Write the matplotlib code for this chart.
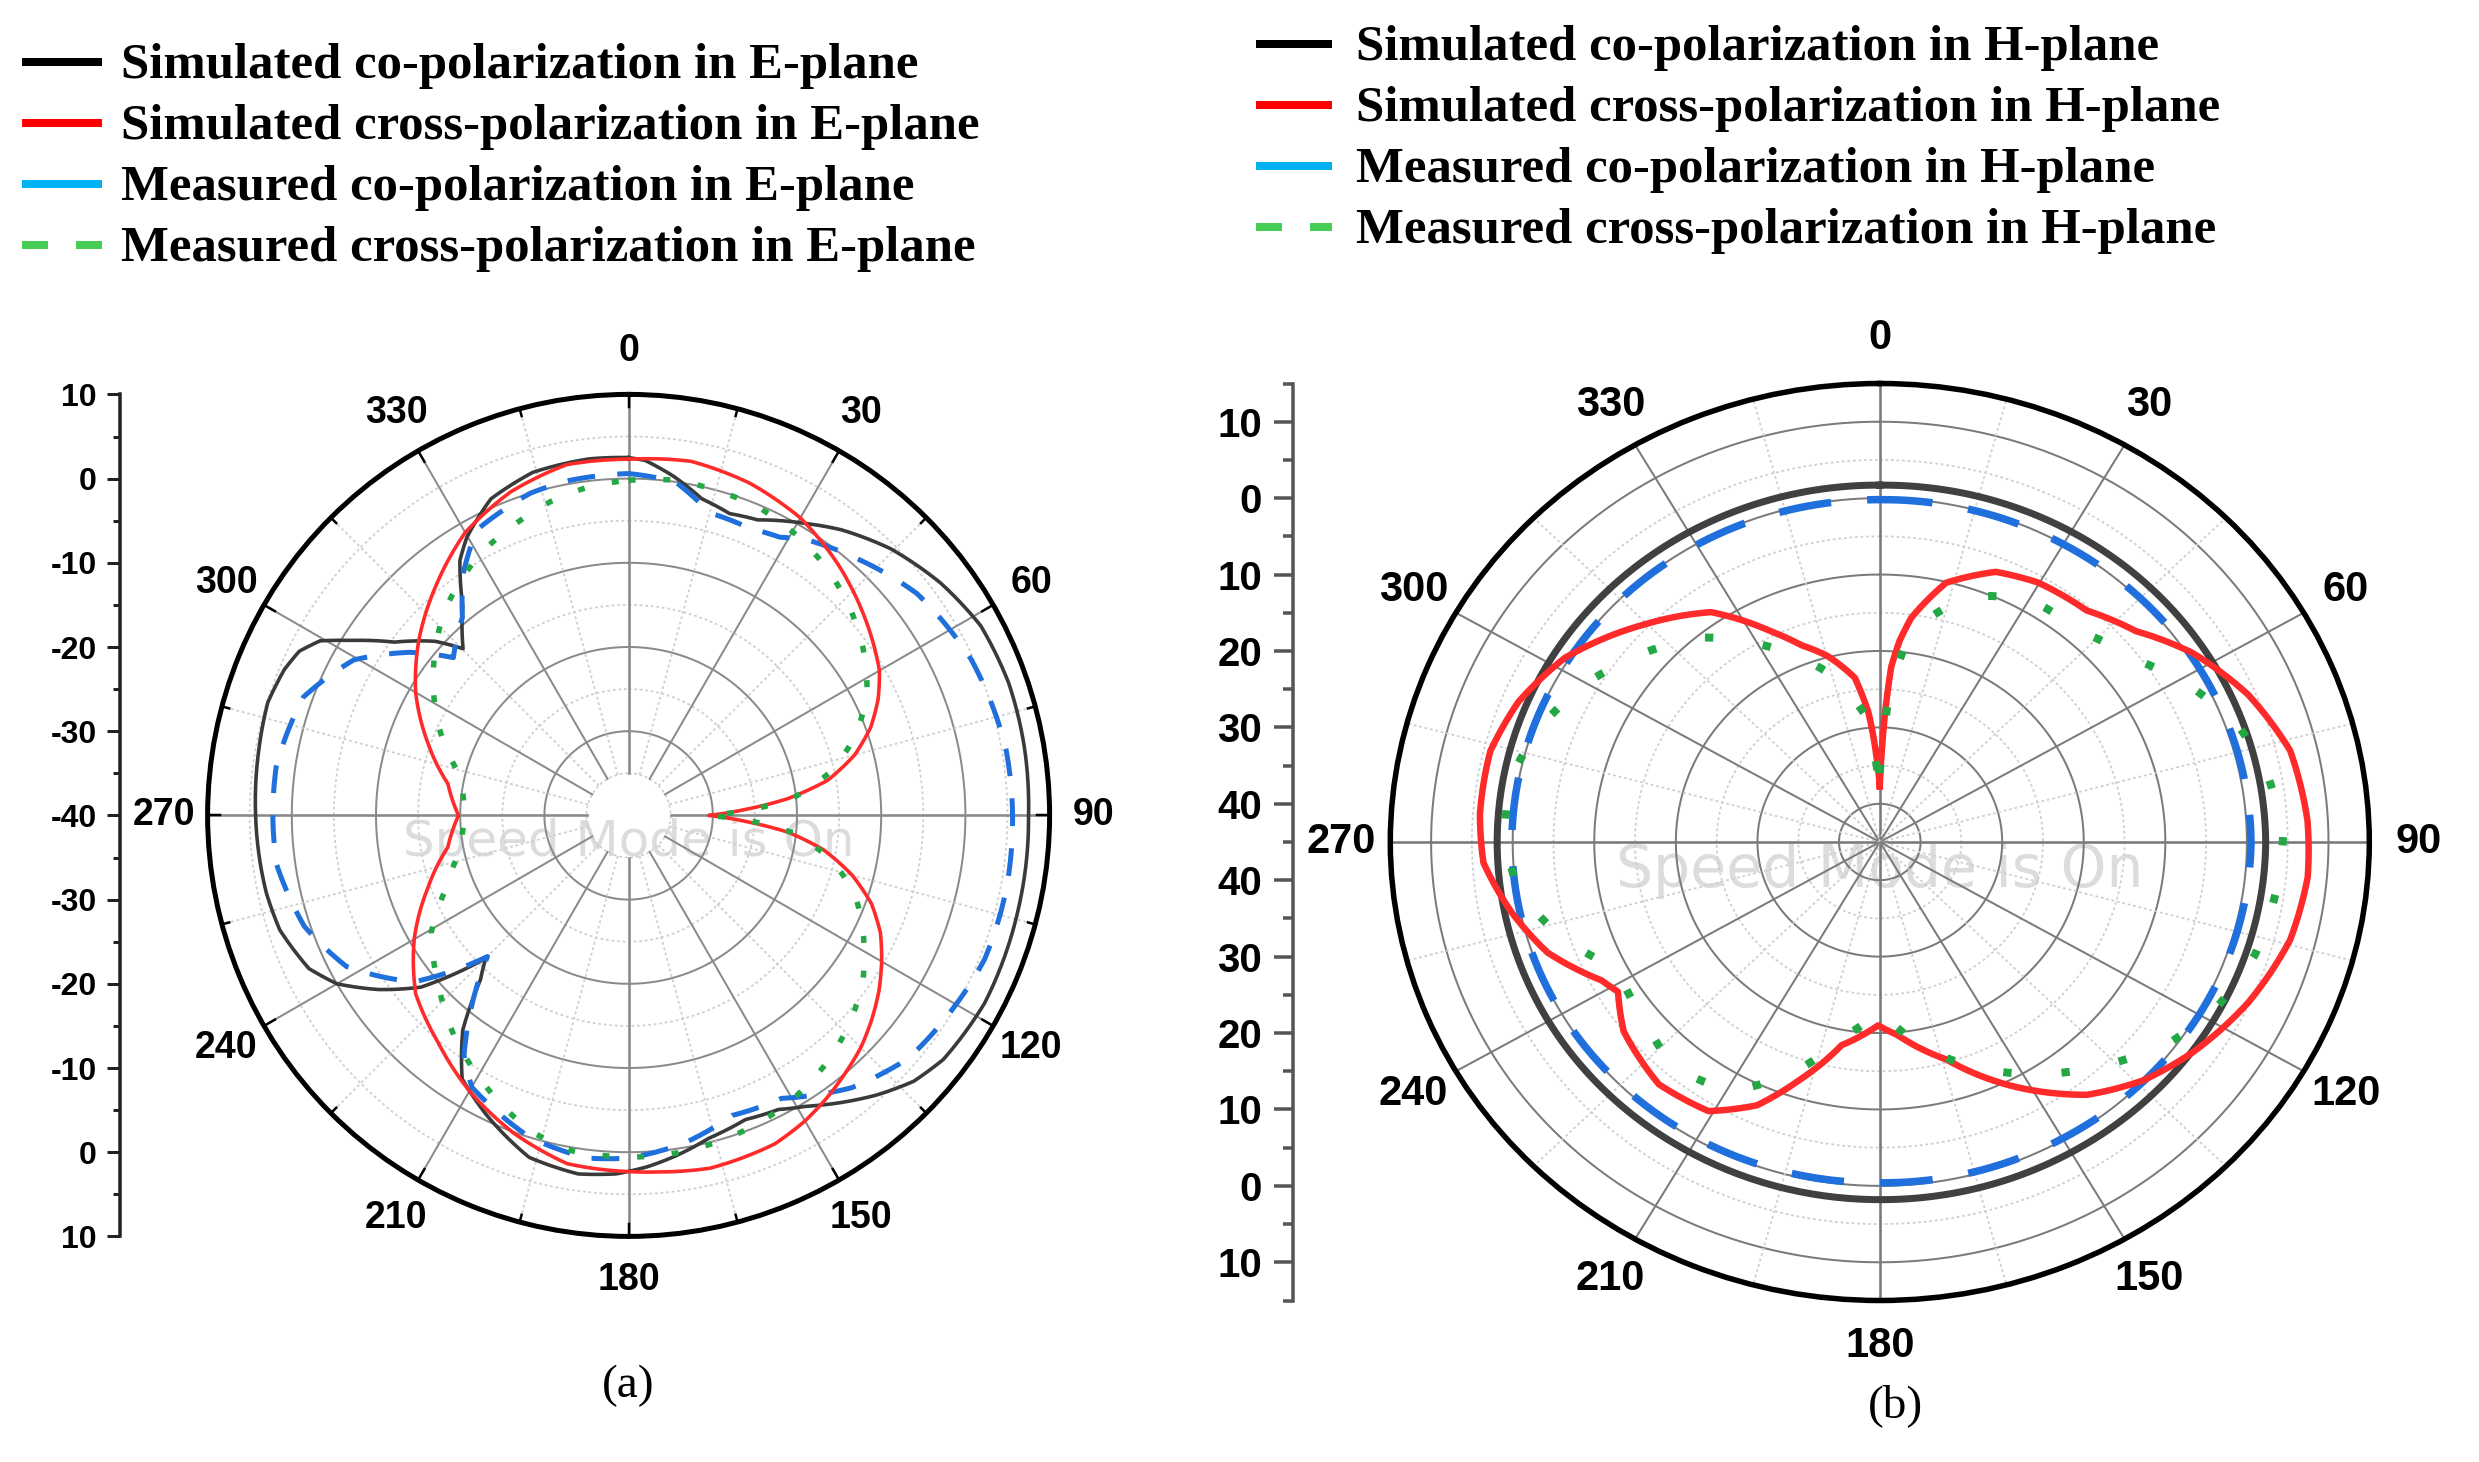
import numpy as np
import matplotlib
matplotlib.use("Agg")
import matplotlib.pyplot as plt
from matplotlib.lines import Line2D

plt.rcParams['font.family'] = ['Liberation Sans', 'DejaVu Sans']
plt.rcParams['lines.scale_dashes'] = False

W, H = 2479, 1462

# ---------------- data (angle in degrees, clockwise from top; value in dB) -------------
# (a) E-plane
e_sim_co_theta = [0, 2.7, 7.5, 13, 18.5, 23.6, 31.4, 36.7, 44.5, 53.3, 61.7, 70.8, 80, 90, 103, 117.8,
                  127.8, 133, 138.4, 142, 148.5, 153, 159, 166, 172, 177, 182, 188, 196.2, 205.3,
                  212.3, 217.7, 222, 225, 230.4, 235.1, 240, 244.4, 251.8, 258, 270, 280, 287.4,
                  293, 296.5, 299.5, 302.2, 306.5, 312, 315.2, 321.6, 326.5, 329.8, 336.5, 344.4,
                  353.7, 360]
e_sim_co_db = [2.5, 2.2, 0.65, -1.4, -2.2, -1.7, 0.6, 2.3, 4.4, 6.2, 7.5, 7.8, 7.7, 7.5, 7.6, 7.8,
               7.3, 6.3, 4.4, 3.0, 0.5, -0.8, -1.3, -0.5, 0.8, 1.8, 2.6, 3.0, 2.3, -0.6,
               -3.0, -7.8, -13.7, -16.0, -8.0, -3.85, 0.0, 2.1, 3.6, 4.0, 4.3, 4.6, 4.9,
               4.4, 3.7, 2.1, -1.0, -5.4, -9.1, -12.1, -8.3, -3.7, -1.8, 1.0, 2.3,
               2.6, 2.5]

e_sim_cross_theta = [0, 10, 20, 30, 40, 45, 50, 55, 60, 65, 70, 75, 80, 84, 87, 90, 93, 96, 100,
                     105, 110, 115, 120, 125, 130, 135, 140, 145, 150, 156, 167, 175, 180, 190,
                     200, 210, 220, 230, 240, 250, 260, 270, 280, 290, 300, 310, 320, 330, 340,
                     350, 360]
e_sim_cross_db = [2.3, 2.7, 2.0, 0.8, -1.2, -2.3, -3.4, -4.5, -5.6, -7.3, -9.4, -12.2, -16.0,
                  -21.0, -26.0, -30.5, -26.0, -21.0, -16.5, -12.5, -9.3, -7.0, -5.3, -3.7, -2.3,
                  -1.0, 0.0, 1.0, 1.9, 2.7, 3.0, 2.5, 2.3, 2.0, 0.1, -2.2, -4.8, -7.0, -10.6,
                  -14.6, -18.2, -19.8, -18.2, -14.6, -10.8, -7.5, -4.4, -1.2, 0.9, 2.3, 2.3]

e_meas_co_theta = [0, 8, 15, 23, 28.5, 33, 41.6, 52.4, 65.5, 80, 90, 101, 112, 120, 131, 140.7,
                   146, 151.6, 160.9, 170.5, 180, 187, 197, 204, 210, 214.5, 218.6, 225, 232.2,
                   241.8, 251.1, 262, 270, 278, 290, 299.5, 306.7, 312, 320, 326, 332, 337, 343,
                   350, 356, 360]
e_meas_co_db = [0.6, 0.0, -2.8, -3.0, -2.4, -1.0, 0.8, 3.2, 4.7, 5.5, 5.6, 5.7, 5.6, 4.9, 4.0,
                1.8, 0.0, -1.8, -2.3, -0.5, 0.7, 1.0, 0.0, -1.5, -2.75, -5.5, -9.8, -16.3,
                -7.75, -2.0, 0.7, 2.2, 2.25, 2.25, 1.1, -2.5, -7.6, -12.0, -9.3, -5.0, -1.6,
                -0.9, 0.0, 0.4, 0.5, 0.6]

e_meas_cross_theta = [0, 8, 15, 23, 31, 39, 47, 54.5, 63, 71, 78, 84, 87.5, 90, 92.5, 96, 102,
                      109, 117, 125, 133, 141, 149, 157, 165, 172, 180, 189.7, 197.6, 207.5, 218,
                      228.8, 239.2, 247.6, 258, 270, 282.4, 295.9, 308.7, 318, 330.3, 338, 346,
                      353, 360]
e_meas_cross_db = [-0.2, 0.2, 0.0, -0.3, -1.2, -2.4, -4.0, -5.8, -8.2, -11.6, -15.6, -20.4,
                   -25.6, -30.5, -25.6, -20.4, -15.6, -11.6, -8.7, -6.0, -4.0, -2.4, -1.2, -0.3,
                   0.2, 0.5, 0.6, 0.4, -0.8, -3.55, -6.5, -9.9, -12.7, -16.4, -19.6, -20.7,
                   -19.8, -14.8, -10.4, -7.3, -4.3, -3.0, -1.6, -0.7, -0.2]

# (b) H-plane
h_sim_co_theta = [0, 30, 60, 90, 120, 150, 180, 210, 240, 270, 300, 330, 360]
h_sim_co_db = [1.7, 1.9, 2.1, 2.3, 2.1, 1.9, 1.8, 1.8, 1.9, 1.9, 1.9, 1.8, 1.7]

h_meas_co_theta = [0, 30, 60, 90, 120, 150, 180, 210, 240, 270, 300, 330, 360]
h_meas_co_db = [-0.2, 0.0, 0.3, 0.5, 0.2, -0.2, -0.4, -0.2, 0.0, 0.1, 0.0, -0.1, -0.2]

h_sim_cross_theta = [0, 1.2, 2.2, 3.5, 5.3, 7.5, 13.5, 21.9, 29.7, 39.9, 48.7, 57.1, 66.9, 76.6,
                     87, 95, 104.3, 115, 125.7, 134, 142.5, 152.4, 164, 175.1, 180.5, 190, 197.6,
                     203.6, 210.8, 220.5, 231.7, 238.6, 242, 250.4, 258.5, 266.8, 274.3, 284,
                     292.5, 302, 314.7, 325.5, 334.2, 339.5, 345.2, 351.9, 355.3, 358, 360]
h_sim_cross_db = [-37.7, -33.0, -28.0, -22.0, -18.5, -15.4, -10.1, -6.9, -5.9, -5.5, -3.2, 0.6,
                  4.1, 6.7, 7.5, 7.65, 6.9, 4.8, 2.2, -0.1, -3.3, -8.8, -15.4, -19.65, -21.0,
                  -18.0, -12.3, -7.4, -4.0, -3.3, -5.0, -7.4, -6.4, -1.8, 1.07, 3.66, 4.15, 4.2,
                  2.94, 0.5, -4.5, -8.5, -14.4, -17.5, -19.8, -23.3, -28.0, -34.0, -37.7]

h_meas_cross_theta = [0, 2, 3.5, 8, 18.5, 30.3, 41.7, 52.7, 62.2, 71.6, 80.2, 89, 97.5, 107.7,
                      116.9, 126.2, 135, 145.2, 155.9, 168.3, 180, 190.4, 199.5, 209.6, 220.8,
                      230.9, 242.9, 252.4, 261.7, 271, 281, 290.7, 300.4, 310.2, 321.3, 331.7,
                      343.3, 353.7, 358, 360]
h_meas_cross_db = [-36.0, -31.0, -25.0, -17.2, -11.1, -8.3, -8.1, -5.6, -1.7, 1.66, 3.4, 4.44,
                   4.0, 3.3, 1.74, -0.74, -4.2, -8.1, -12.3, -17.4, -23.0, -18.9, -12.9, -7.5,
                   -6.2, -7.9, -8.8, -4.0, -0.26, 1.0, 0.9, -0.96, -3.6, -6.8, -10.7, -15.9,
                   -21.6, -28.2, -35.4, -36.0]

angle_labels = ['0', '30', '60', '90', '120', '150', '180', '210', '240', '270', '300', '330']
left_r_labels = ['10', '0', '-10', '-20', '-30', '-40', '-30', '-20', '-10', '0', '10']
right_r_labels = ['10', '0', '10', '20', '30', '40', '40', '30', '20', '10', '0', '10']

legend_a = ['Simulated co-polarization in E-plane', 'Simulated cross-polarization in E-plane',
            'Measured co-polarization in E-plane', 'Measured cross-polarization in E-plane']
legend_b = ['Simulated co-polarization in H-plane', 'Simulated cross-polarization in H-plane',
            'Measured co-polarization in H-plane', 'Measured cross-polarization in H-plane']

# ---------------- figure ----------------
fig = plt.figure(figsize=(W / 100, H / 100), dpi=100)
fig.patch.set_facecolor('white')


def fx(x):
    return x / W


def fy(y):
    return 1 - y / H


def px(p):
    return p * 0.72


def polar_line(ax, theta_deg, vals, **kw):
    ln, = ax.plot(np.deg2rad(theta_deg), vals, **kw)
    # let the polar transform draw each segment as an arc in (theta, r)
    ln.get_path()._interpolation_steps = 40
    return ln


def setup_polar(ax, rmin, rmax, spine_lw):
    ax.set_theta_zero_location('N')
    ax.set_theta_direction(-1)
    ax.set_ylim(rmin, rmax)
    ax.grid(False)
    ax.set_xticks([])
    ax.set_yticks([])
    ax.spines['polar'].set_linewidth(spine_lw)
    ax.spines['polar'].set_color('black')
    ax.set_facecolor('none')


def draw_grid(ax, rin, rmax, solid_r, light_r, solid_c='#8a8a8a', light_c='#cfcfcf'):
    t = np.linspace(0, 2 * np.pi, 721)
    for r in solid_r:
        ax.plot(t, np.full_like(t, r), color=solid_c, lw=px(2.0), zorder=1)
    for r in light_r:
        ax.plot(t, np.full_like(t, r), color=light_c, lw=px(1.8), ls=(0, (2, 2)), zorder=1)
    for a in range(0, 360, 15):
        th = np.deg2rad(a)
        if a % 30 == 0:
            lw = px(2.6) if a % 90 == 0 else px(2.0)
            ax.plot([th, th], [rin, rmax], color=solid_c, lw=lw, zorder=1)
        else:
            ax.plot([th, th], [rin, rmax], color=light_c, lw=px(1.8), ls=(0, (2, 2)), zorder=1)


# ---- (a) left polar ----
axL = fig.add_axes([fx(207.6), fy(1236.4), 842 / W, 842 / H], projection='polar')
setup_polar(axL, -40, 10, px(5))
draw_grid(axL, -35, 10, [-30, -20, -10, 0], [-35, -25, -15, -5, 5])
for a in range(0, 360, 15):
    th = np.deg2rad(a)
    d = 1.5 if a % 30 == 0 else 0.9
    axL.plot([th, th], [10 - d, 10], color='black', lw=px(2.5), zorder=4, clip_on=False)
axL.text(np.pi, -36.8, 'Speed Mode is On', ha='center', va='center',
         fontsize=36, color='#dcdcdc', zorder=0.5, family=['DejaVu Sans'])

polar_line(axL, e_sim_co_theta, e_sim_co_db, color='#3a3a3a', lw=px(3.6), zorder=3)
polar_line(axL, e_meas_co_theta, e_meas_co_db, color='#1f6fdc', lw=px(5), zorder=3.2,
           ls=(0, (20, 16)))
polar_line(axL, e_sim_cross_theta, e_sim_cross_db, color='#ff2a2a', lw=px(3.6), zorder=3.4)
polar_line(axL, e_meas_cross_theta, e_meas_cross_db, color='#23a845', lw=px(5.5),
           zorder=3.6, ls=(0, (5, 20)))

for i, lab in enumerate(angle_labels):
    axL.text(np.deg2rad(30 * i), 15.2, lab, ha='center', va='center', fontsize=27,
             fontweight='bold', clip_on=False)

# left radial axis
axLa = fig.add_axes([fx(120), fy(1236.4), 0.0004, 842 / H])
axLa.set_ylim(-50, 50)
axLa.set_xlim(0, 1)
for s in ['top', 'right', 'bottom']:
    axLa.spines[s].set_visible(False)
axLa.spines['left'].set_linewidth(px(3.5))
axLa.spines['left'].set_color('#222222')
axLa.set_xticks([])
axLa.set_yticks(np.arange(-50, 51, 10))
axLa.set_yticklabels(left_r_labels[::-1])
axLa.set_yticks(np.arange(-45, 50, 10), minor=True)
axLa.tick_params(axis='y', which='major', length=px(13), width=px(3), pad=px(10),
                 labelsize=23, color='#222222')
axLa.tick_params(axis='y', which='minor', length=px(7), width=px(3), color='#222222')
for t in axLa.get_yticklabels():
    t.set_fontweight('bold')
axLa.patch.set_visible(False)

# ---- (b) right polar (elliptical) ----
axR = fig.add_axes([fx(1390.3), fy(1300.5), 979 / W, 917 / H], projection='polar')
setup_polar(axR, -45, 15, px(5.5))
axR.set_aspect('auto')
draw_grid(axR, -45, 15, [-40, -30, -20, -10, 0, 10], [-35, -25, -15, -5, 5], solid_c='#7a7a7a')
axR.text(np.pi, -41.3, 'Speed Mode is On', ha='center', va='center', fontsize=42,
         color='#dcdcdc', zorder=0.5, family=['DejaVu Sans'])

polar_line(axR, h_sim_co_theta, h_sim_co_db, color='#404040', lw=px(7), zorder=3)
polar_line(axR, h_meas_co_theta, h_meas_co_db, color='#1f6fdc', lw=px(7.5), zorder=3.2,
           ls=(0, (38, 26)))
polar_line(axR, h_sim_cross_theta, h_sim_cross_db, color='#ff2a2a', lw=px(6.5), zorder=3.4)
polar_line(axR, h_meas_cross_theta, h_meas_cross_db, color='#23a845', lw=px(8),
           zorder=3.6, ls=(0, (6, 36)))

for i, lab in enumerate(angle_labels):
    axR.text(np.deg2rad(30 * i), 21.0, lab, ha='center', va='center', fontsize=30,
             fontweight='bold', clip_on=False)

# right radial axis
axRa = fig.add_axes([fx(1293), fy(1300.5), 0.0004, 917 / H])
axRa.set_ylim(-60, 60)
axRa.set_xlim(0, 1)
for s in ['top', 'right', 'bottom']:
    axRa.spines[s].set_visible(False)
axRa.spines['left'].set_linewidth(px(3.5))
axRa.spines['left'].set_color('#555555')
axRa.set_xticks([])
axRa.set_yticks(np.arange(-55, 56, 10))
axRa.set_yticklabels(right_r_labels[::-1])
axRa.set_yticks(np.arange(-60, 61, 10), minor=True)
axRa.tick_params(axis='y', which='major', length=px(19), width=px(3.5), pad=px(12),
                 labelsize=29, color='#555555')
axRa.tick_params(axis='y', which='minor', length=px(10), width=px(3.5), color='#555555')
for t in axRa.get_yticklabels():
    t.set_fontweight('bold')
axRa.patch.set_visible(False)

# ---------------- legends ----------------
leg_colors = ['black', '#ff0000', '#00b0f0', '#44cc55']


def draw_legend(x0, x1, xt, baselines, labels):
    for k, (yb, lab) in enumerate(zip(baselines, labels)):
        yl = yb - 16
        if k < 3:
            ln = Line2D([fx(x0), fx(x1)], [fy(yl), fy(yl)], transform=fig.transFigure,
                        color=leg_colors[k], lw=px(8), solid_capstyle='butt')
        else:
            ln = Line2D([fx(x0), fx(x1)], [fy(yl), fy(yl)], transform=fig.transFigure,
                        color=leg_colors[k], lw=px(8), ls=(0, (px(26), px(28))),
                        dash_capstyle='butt')
        fig.add_artist(ln)
        fig.text(fx(xt), fy(yb), lab, ha='left', va='baseline', fontsize=36.5,
                 fontweight='bold', family=['Liberation Serif', 'DejaVu Serif'])


draw_legend(22, 102, 121, [78, 139, 200, 261], legend_a)
draw_legend(1256, 1332, 1356, [60, 121, 182, 243], legend_b)

# captions
fig.text(fx(628.6), fy(1386), '(a)', ha='center', va='center', fontsize=34,
         family=['Liberation Serif', 'DejaVu Serif'])
fig.text(fx(1896), fy(1406), '(b)', ha='center', va='center', fontsize=34,
         family=['Liberation Serif', 'DejaVu Serif'])

fig.savefig('out.png', dpi=100, facecolor='white')
